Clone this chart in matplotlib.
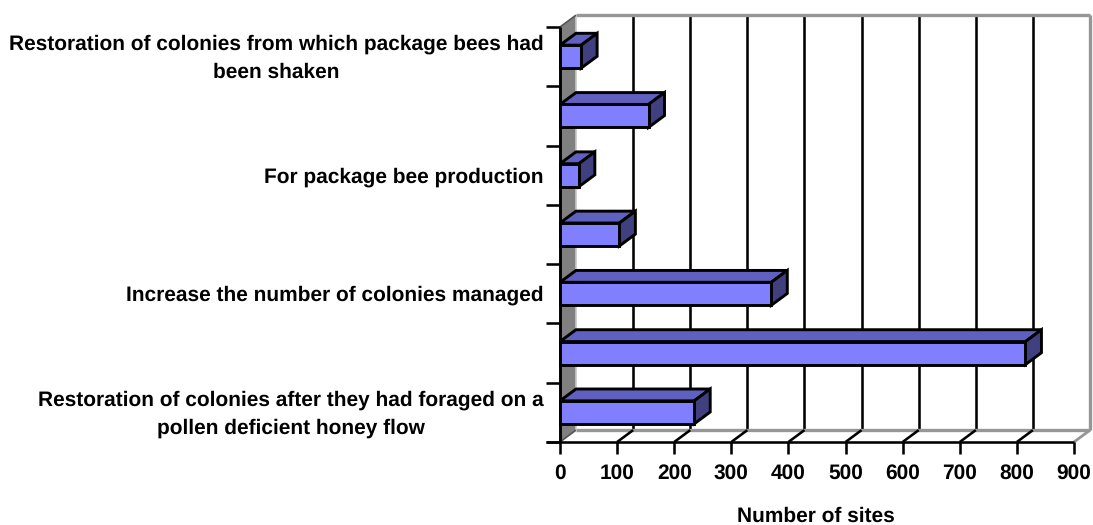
import matplotlib
matplotlib.use("Agg")
import matplotlib.pyplot as plt
from matplotlib.patches import Polygon

plt.rcParams["font.family"] = ["Liberation Sans", "DejaVu Sans"]
plt.rcParams["font.weight"] = "bold"
plt.rcParams["text.hinting"] = "no_hinting"

# Categories run from the bottom of the chart to the top; unlabelled rows stay blank.
categories = [
    "Restoration of colonies after they had foraged on a\npollen deficient honey flow",
    "",
    "Increase the number of colonies managed",
    "",
    "For package bee production",
    "",
    "Restoration of colonies from which package bees had\nbeen shaken",
]
sites = [235, 815, 370, 104, 33, 155, 37]
x_ticks = [0, 100, 200, 300, 400, 500, 600, 700, 800, 900]
x_title = "Number of sites"

W, H = 1093, 525
DEPTH_X = 28.0     # receding depth in value units
DEPTH_Y = 0.2      # receding depth in category units
BAR_H = 23 / 59.3  # bar thickness as a share of one category band
FONT = 15.05

FACE = "#8080ff"
TOP = "#6060c0"
SIDE = "#404080"
WALL = "#808080"
EDGE = "#969696"

fig = plt.figure(figsize=(W / 100, H / 100), dpi=100)
ax = fig.add_axes([560 / W, 1 - 442 / H, (1074 - 560) / W, (442 - 27) / H])
ax.set_xlim(0, 900)
ax.set_ylim(0, len(categories))
ax.axis("off")


def poly(points, face="none", edge="black", lw=2.1, z=2):
    ax.add_patch(Polygon(points, closed=True, facecolor=face, edgecolor=edge,
                         linewidth=lw, joinstyle="miter", clip_on=False, zorder=z))


def line(xs, ys, color="black", lw=1.85, z=2):
    ax.plot(xs, ys, color=color, lw=lw, clip_on=False, zorder=z,
            solid_capstyle="butt")


n = len(categories)

# Grey side wall at zero
poly([(0, 0), (DEPTH_X, DEPTH_Y), (DEPTH_X, n + DEPTH_Y), (0, n)],
     face=WALL, edge="none", lw=0, z=1)

# Back wall outline and gridlines
for v in x_ticks[1:-1]:
    line([v + DEPTH_X] * 2, [DEPTH_Y, n + DEPTH_Y], z=1.5)
line([DEPTH_X, 900 + DEPTH_X], [n + DEPTH_Y] * 2, color=EDGE, lw=2.4, z=1.6)
line([900 + DEPTH_X] * 2, [DEPTH_Y, n + DEPTH_Y], color=EDGE, lw=2.4, z=1.6)
line([DEPTH_X, 900 + DEPTH_X], [DEPTH_Y] * 2, color=EDGE, lw=2.4, z=1.6)
line([DEPTH_X, DEPTH_X], [DEPTH_Y, n + DEPTH_Y], color="#c8c8c8", lw=1.2, z=1.6)
line([900, 900 + DEPTH_X], [0, DEPTH_Y], color=EDGE, lw=2.0, z=1.6)

# Floor diagonals joining the front ticks to the gridlines
for v in x_ticks[:-1]:
    line([v, v + DEPTH_X], [0, DEPTH_Y], lw=1.85 if v else 1.2,
         color="black" if v else "#555555", z=1.7)

# Front axes and tick marks
line([-24, 900], [0, 0], z=3)
line([0, 0], [0, n], lw=2.1, z=3)
for v in x_ticks:
    line([v, v], [0, -0.21], z=3)
    ax.text(v, -0.535, str(v), ha="center", va="center", fontsize=FONT)
for k in range(n + 1):
    line([-24, 0], [k, k], z=3)
line([0, DEPTH_X], [n, n + DEPTH_Y], color="#555555", lw=1.2, z=1.7)

# Bars: front face, top face and side face
for k, (label, value) in enumerate(zip(categories, sites)):
    lo = k + 0.5 - BAR_H / 2
    hi = k + 0.5 + BAR_H / 2
    poly([(0, hi), (DEPTH_X, hi + DEPTH_Y), (value + DEPTH_X, hi + DEPTH_Y), (value, hi)],
         face=TOP, z=4)
    poly([(value, lo), (value + DEPTH_X, lo + DEPTH_Y),
          (value + DEPTH_X, hi + DEPTH_Y), (value, hi)], face=SIDE, z=4)
    poly([(0, lo), (value, lo), (value, hi), (0, hi)], face=FACE, z=5)
    if label:
        ax.text(-29, k + 0.475, label, ha="right", va="center", ma="center",
                fontsize=FONT, linespacing=1.54)

fig.text(816 / W, 1 - 516.5 / H, x_title, ha="center", va="center", fontsize=FONT)

fig.savefig("out.png", dpi=100)
